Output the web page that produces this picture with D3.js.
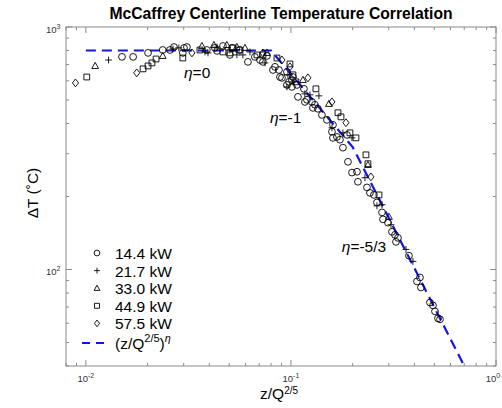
<!DOCTYPE html>
<html>
<head>
<meta charset="utf-8">
<script src="https://cdn.jsdelivr.net/npm/d3@7"></script>
<style>
body { margin: 0; background: #fff; }
svg { font-family: "Liberation Sans", Arial, sans-serif; }
</style>
</head>
<body>
<div id="chart-area"></div>
<script>
// measured points, [z/Q^(2/5), deltaT]
var q144 = [[0.0150,753],[0.0170,753],[0.0201,782],[0.0237,804],[0.0257,804],[0.0269,827],[0.0301,820],[0.0311,827],
    [0.0297,782],[0.0389,804],[0.0426,820],[0.0436,797],[0.0466,835],[0.0516,820],[0.0504,767],[0.0564,804],
    [0.0617,718],[0.0667,753],[0.0706,731],[0.0764,760],[0.0730,718],[0.0817,665],[0.0874,665],[0.0884,622],
    [0.0836,685],[0.0956,653],[0.0978,594],[0.1011,605],[0.107,577],[0.0904,617],[0.1023,622],[0.0956,577],
    [0.1011,566],[0.1082,515],[0.1157,556],[0.117,491],[0.1197,501],[0.1266,491],[0.128,464],[0.1309,478],
    [0.1354,460],[0.1416,434],[0.1498,414],[0.1603,395],[0.1585,370],[0.1603,349],[0.1676,352],[0.1734,343],
    [0.1793,318],[0.1876,359],[0.1897,278],[0.1985,251],[0.2099,253],[0.2122,230],[0.2348,218],[0.2428,207],
    [0.254,203],[0.2627,189],[0.278,172],[0.2811,161],[0.2973,156],[0.311,143],[0.3217,139],[0.3253,130],
    [0.3327,135],[0.3763,114],[0.4117,89.3],[0.4258,92.7],[0.4306,84.3],[0.4764,73.1],[0.4928,71.1],
    [0.504,67.2],[0.5213,62.9],[0.5333,62.3]];
var q217 = [[0.0129,731],[0.0266,812],[0.0284,820],[0.0394,782],[0.0436,827],[0.0381,789],[0.0504,804],
    [0.0545,767],[0.0583,767],[0.0631,789],[0.0747,711],[0.0956,566],[0.0967,635],[0.1023,594],[0.117,530],
    [0.1238,525],[0.1369,520],[0.1585,384],[0.1793,366],[0.1985,349],[0.2296,239],[0.2627,183],[0.278,185],
    [0.3075,153],[0.364,121],[0.3936,108]];
var q330 = [[0.0111,691],[0.0237,760],[0.0368,835],[0.0421,843],[0.0487,843],[0.0545,827],[0.0597,820],
    [0.0764,782],[0.1144,605],[0.1532,482],[0.2374,270],[0.3006,165]];
var q449 = [[0.0101,622],[0.0190,672],[0.0201,691],[0.0210,711],[0.0220,738],[0.0297,745],[0.036,804],
    [0.0466,789],[0.0504,782],[0.0521,820],[0.0558,804],[0.0683,767],[0.073,767],[0.0855,745],[0.0989,704],
    [0.1023,635],[0.1058,594],[0.1324,556],[0.1696,443],[0.1754,426],[0.194,366],[0.2075,349],[0.2322,297],
    [0.2374,273],[0.2687,203]];
var q575 = [[0.0089,588],[0.0177,647],[0.0329,782],[0.073,782],[0.0904,731],[0.0989,685],[0.121,617],
    [0.1585,491],[0.1855,403],[0.2455,241]];

// correlation breakpoints (eta = 0, -1, -5/3)
var fitLine = [[0.01,800],[0.08,800],[0.2,320],[0.7,40]];

var seriesNames = ['14.4 kW', '21.7 kW', '33.0 kW', '44.9 kW', '57.5 kW'];
var seriesData = [q144, q217, q330, q449, q575];
var seriesShapes = ['circle', 'plus', 'triangle', 'square', 'diamond'];

var xDomain = [0.008, 1];
var yDomain = [40, 1000];

var margin = { left: 66, right: 6, top: 27, bottom: 42 };
var width = 502 - margin.left - margin.right,
    height = 408 - margin.top - margin.bottom;

var svg = d3.select('#chart-area')
    .append('svg')
    .attr('width', 502)
    .attr('height', 408);

var g = svg.append('g')
    .attr('transform', 'translate(' + margin.left + ', ' + margin.top + ')');

var x = d3.scaleLog().domain(xDomain).range([0, width]);
var y = d3.scaleLog().domain(yDomain).range([height, 0]);

function shapePath(s, r) {
    if (s == 'circle') return 'M' + r + ',0A' + r + ',' + r + ' 0 1,1 ' + (-r) + ',0A' + r + ',' + r + ' 0 1,1 ' + r + ',0Z';
    if (s == 'plus') return 'M' + (-r) + ',0H' + r + 'M0,' + (-r) + 'V' + r;
    if (s == 'triangle') return 'M0,' + (-r * 1.05) + 'L' + (r * 1.0) + ',' + (r * 0.75) + 'L' + (-r * 1.0) + ',' + (r * 0.75) + 'Z';
    if (s == 'square') { var a = r * 0.85; return 'M' + (-a) + ',' + (-a) + 'H' + a + 'V' + a + 'H' + (-a) + 'Z'; }
    if (s == 'diamond') return 'M0,' + (-r * 1.15) + 'L' + (r * 0.9) + ',0L0,' + (r * 1.15) + 'L' + (-r * 0.9) + ',0Z';
}

// frame
g.append('rect')
    .attr('width', width)
    .attr('height', height)
    .attr('fill', 'none')
    .attr('stroke', '#8a8a8a')
    .attr('stroke-width', 1);

// ticks, inward on all four sides
var tickCol = '#8a8a8a';
function isMajor(v) { return Math.abs(Math.log10(v) - Math.round(Math.log10(v))) < 1e-6; }

x.ticks().forEach(function(v) {
    var len = isMajor(v) ? 6 : 3;
    var px = x(v);
    g.append('line').attr('x1', px).attr('x2', px).attr('y1', height).attr('y2', height - len).attr('stroke', tickCol);
    g.append('line').attr('x1', px).attr('x2', px).attr('y1', 0).attr('y2', len).attr('stroke', tickCol);
});
y.ticks().forEach(function(v) {
    var len = isMajor(v) ? 6 : 3;
    var py = y(v);
    g.append('line').attr('y1', py).attr('y2', py).attr('x1', 0).attr('x2', len).attr('stroke', tickCol);
    g.append('line').attr('y1', py).attr('y2', py).attr('x1', width).attr('x2', width - len).attr('stroke', tickCol);
});

// tick labels 10^n
function powLabel(sel, n) {
    sel.append('tspan').text('10');
    sel.append('tspan').text(n).attr('dy', -4).attr('font-size', '7px');
}
x.ticks().filter(isMajor).forEach(function(v) {
    var t = g.append('text')
        .attr('x', Math.min(x(v), width - 3))
        .attr('y', height + 16)
        .attr('text-anchor', 'middle')
        .attr('font-size', '9.5px')
        .attr('fill', '#333');
    powLabel(t, Math.round(Math.log10(v)));
});
y.ticks().filter(isMajor).forEach(function(v) {
    var t = g.append('text')
        .attr('x', -20)
        .attr('y', y(v) + 6)
        .attr('font-size', '9.5px')
        .attr('fill', '#333');
    powLabel(t, Math.round(Math.log10(v)));
});

// correlation line
var line = d3.line()
    .x(function(d) { return x(d[0]); })
    .y(function(d) { return y(d[1]); });

var clip = svg.append('clipPath').attr('id', 'plotclip');
clip.append('rect').attr('width', width).attr('height', height);

g.append('path')
    .datum(fitLine)
    .attr('d', line)
    .attr('clip-path', 'url(#plotclip)')
    .attr('fill', 'none')
    .attr('stroke', '#1414e6')
    .attr('stroke-width', 2.2)
    .attr('stroke-dasharray', '10,6');

// data markers
seriesData.forEach(function(data, i) {
    g.selectAll('.m' + i)
        .data(data)
        .enter()
        .append('path')
        .attr('class', 'm' + i)
        .attr('transform', function(d) { return 'translate(' + x(d[0]) + ',' + y(d[1]) + ')'; })
        .attr('d', shapePath(seriesShapes[i], 3.4))
        .attr('fill', 'none')
        .attr('stroke', '#000')
        .attr('stroke-width', 0.9);
});

// regime annotations
function etaText(xv, yv, rest) {
    var t = g.append('text')
        .attr('x', x(xv))
        .attr('y', y(yv))
        .attr('font-size', '15.5px')
        .attr('fill', '#000');
    t.append('tspan').text('\u03b7').attr('font-style', 'italic');
    t.append('tspan').text(rest);
}
etaText(0.0301, 617, '=0');
etaText(0.079, 403, '=-1');
etaText(0.177, 118, '=-5/3');

// title
svg.append('text')
    .attr('x', margin.left + width / 2)
    .attr('y', 19)
    .attr('text-anchor', 'middle')
    .attr('font-size', '15.7px')
    .attr('font-weight', 'bold')
    .text('McCaffrey Centerline Temperature Correlation');

// axis labels
svg.append('text')
    .attr('transform', 'translate(38, 193) rotate(-90)')
    .attr('text-anchor', 'middle')
    .attr('font-size', '15.5px')
    .text('\u0394T (\u02daC)');

var xl = svg.append('text')
    .attr('x', 260)
    .attr('y', 399)
    .attr('font-size', '15.5px');
xl.append('tspan').text('z/Q');
xl.append('tspan').text('2/5').attr('dy', -5).attr('font-size', '10px');

// legend
var legX = 97, legY0 = 253, legDy = 17.6;
seriesNames.forEach(function(name, i) {
    var ly = legY0 + i * legDy;
    svg.append('path')
        .attr('transform', 'translate(' + legX + ',' + ly + ')')
        .attr('d', shapePath(seriesShapes[i], 2.9))
        .attr('fill', 'none')
        .attr('stroke', '#000')
        .attr('stroke-width', 0.9);
    svg.append('text')
        .attr('x', 115)
        .attr('y', ly + 6)
        .attr('font-size', '15.5px')
        .text(name);
});
var lyLast = legY0 + 5 * legDy + 2;
svg.append('line')
    .attr('x1', 82).attr('x2', 106)
    .attr('y1', lyLast).attr('y2', lyLast)
    .attr('stroke', '#1414e6')
    .attr('stroke-width', 2.2)
    .attr('stroke-dasharray', '8,6');
var lt = svg.append('text')
    .attr('x', 115)
    .attr('y', lyLast + 6)
    .attr('font-size', '15.5px');
lt.append('tspan').text('(z/Q');
lt.append('tspan').text('2/5').attr('dy', -7).attr('font-size', '11px');
lt.append('tspan').text(')').attr('dy', 7);
lt.append('tspan').text('\u03b7').attr('dy', -7).attr('font-size', '11px').attr('font-style', 'italic');
</script>
</body>
</html>
